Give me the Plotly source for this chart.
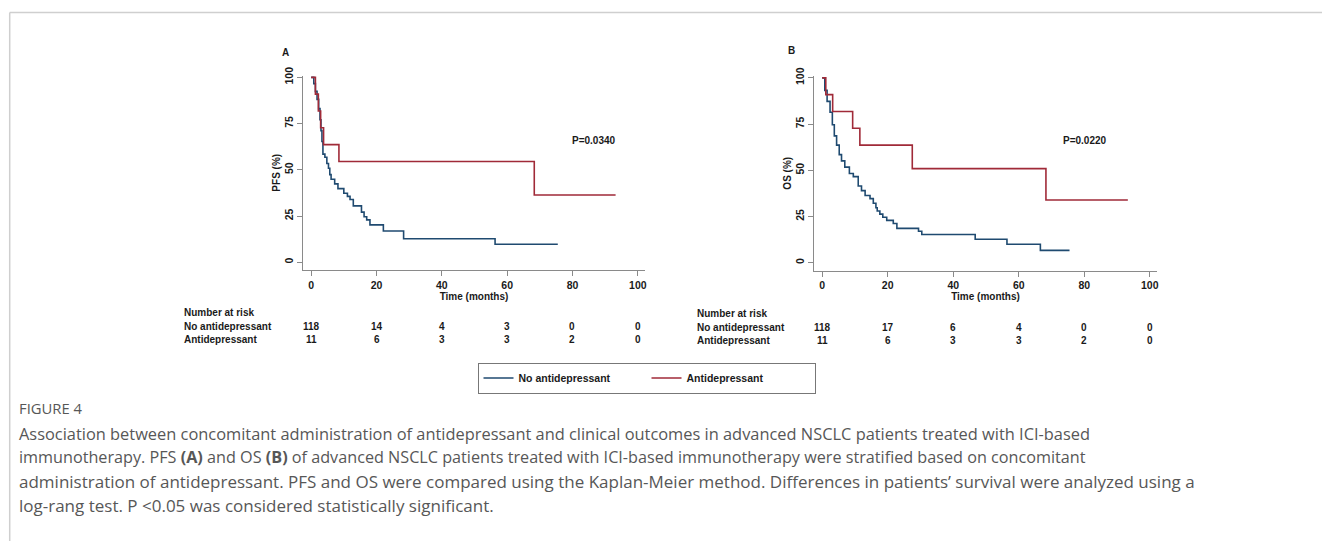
import plotly.graph_objects as go

W, H = 1322, 541

# ---- Kaplan-Meier step data (time in months, survival in %) ----
# Panel A: progression-free survival
pfs_no_t = [0, 0.8, 1.3, 1.8, 2.3, 2.7, 3.0, 3.3, 3.6, 4.2, 4.8, 5.3, 5.7, 6.1, 7.2, 8.2,
            10.0, 11.1, 11.9, 12.9, 15.4, 16.2, 17.0, 18.0, 22.1, 28.3, 56.3, 75.5]
pfs_no_s = [100, 96.6, 92.4, 88.1, 83.1, 77.1, 71.2, 65.3, 58.5, 56.8, 53.4, 50.8, 47.4, 44.9,
            42.4, 39.8, 37.3, 35.6, 33.9, 30.5, 27.1, 24.6, 22.9, 20.2, 16.9, 12.7, 9.7, 9.7]
pfs_ad_t = [0, 1.3, 2.2, 2.9, 3.8, 8.5, 68.3, 93.2]
pfs_ad_s = [100, 90.9, 81.8, 72.7, 63.6, 54.5, 36.4, 36.4]

# Panel B: overall survival
os_no_t = [0, 0.8, 1.5, 2.4, 3.1, 3.7, 4.4, 5.2, 5.9, 6.9, 8.3, 9.5, 11.0, 12.0, 13.1, 14.6,
           15.6, 16.4, 16.8, 17.6, 18.5, 19.7, 21.7, 22.8, 29.4, 30.4, 46.7, 56.4, 66.6, 75.5]
os_no_s = [100, 93.2, 87.3, 81.4, 74.6, 68.6, 63.6, 58.5, 55.1, 51.7, 48.3, 46.6, 41.5, 39.0,
           36.4, 34.7, 32.2, 29.7, 28.0, 26.3, 24.6, 22.9, 21.2, 18.6, 17.0, 15.3, 12.7, 10.0, 6.7, 6.7]
os_ad_t = [0, 1.1, 3.2, 9.3, 11.5, 27.5, 68.3, 93.3]
os_ad_s = [100, 90.9, 81.8, 72.7, 63.6, 50.9, 33.9, 33.9]

# Number-at-risk tables
risk_times = [0, 20, 40, 60, 80, 100]
pfs_risk_no = [118, 14, 4, 3, 0, 0]
pfs_risk_ad = [11, 6, 3, 3, 2, 0]
os_risk_no = [118, 17, 6, 4, 0, 0]
os_risk_ad = [11, 6, 3, 3, 2, 0]

group_names = ["No antidepressant", "Antidepressant"]
p_values = ["P=0.0340", "P=0.0220"]
x_ticks = [0, 20, 40, 60, 80, 100]
y_ticks = [0, 25, 50, 75, 100]

caption_head = "FIGURE 4"
caption_lines = [
    "Association between concomitant administration of antidepressant and clinical outcomes in advanced NSCLC patients treated with ICI-based",
    "immunotherapy. PFS <b>(A)</b> and OS <b>(B)</b> of advanced NSCLC patients treated with ICI-based immunotherapy were stratified based on concomitant",
    "administration of antidepressant. PFS and OS were compared using the Kaplan-Meier method. Differences in patients\u2019 survival were analyzed using a",
    "log-rang test. P <0.05 was considered statistically significant.",
]
caption_sizes = [16.4, 16.2, 17.0, 17.0]

NAVY = "#1f4a70"
MAROON = "#a02a38"
AX = "#8a8a8a"
FONT = "Liberation Sans"


def px_x(p):
    return p / W


def px_y(p):
    return 1 - p / H


fig = go.Figure()

panels = [
    ("x", "y", pfs_no_t, pfs_no_s, pfs_ad_t, pfs_ad_s, True),
    ("x2", "y2", os_no_t, os_no_s, os_ad_t, os_ad_s, False),
]
for xa, ya, nt, ns, at, as_, show in panels:
    fig.add_trace(go.Scatter(x=nt, y=ns, mode="lines", line=dict(color=NAVY, width=1.6, shape="hv"),
                             name=group_names[0], legendgroup="no", showlegend=show,
                             xaxis=xa, yaxis=ya, hoverinfo="skip"))
    fig.add_trace(go.Scatter(x=at, y=as_, mode="lines", line=dict(color=MAROON, width=1.6, shape="hv"),
                             name=group_names[1], legendgroup="ad", showlegend=show,
                             xaxis=xa, yaxis=ya, hoverinfo="skip"))

tickfont = dict(family=FONT, size=10.5, color="#1a1a1a", weight="bold")
titlefont = dict(family=FONT, size=10, color="#1a1a1a", weight="bold")

x_common = dict(range=[-2.5, 102.2], tickvals=x_ticks, showgrid=False, zeroline=False,
                showline=True, linecolor=AX, linewidth=1, ticks="outside", ticklen=5,
                tickcolor=AX, tickwidth=1, tickfont=tickfont, automargin=False,
                title=dict(text="Time (months)", font=titlefont, standoff=2))
y_common = dict(range=[-4.2, 101], tickvals=y_ticks, showgrid=False, zeroline=False,
                showline=True, linecolor=AX, linewidth=1, ticks="outside", ticklen=5,
                tickcolor=AX, tickwidth=1, tickfont=tickfont, tickangle=-90, automargin=False)

fig.update_layout(
    xaxis=dict(domain=[px_x(303), px_x(645)], anchor="y", **x_common),
    yaxis=dict(domain=[px_y(270), px_y(75.5)], anchor="x",
               title=dict(text="PFS (%)", font=titlefont, standoff=0), **y_common),
    xaxis2=dict(domain=[px_x(814), px_x(1157)], anchor="y2", **x_common),
    yaxis2=dict(domain=[px_y(270.5), px_y(76)], anchor="x2",
                title=dict(text="OS (%)", font=titlefont, standoff=0), **y_common),
)

ann = []
bold10 = dict(family=FONT, size=10, color="#1a1a1a", weight="bold")

# Panel letters and p-values
ann.append(dict(text="A", x=px_x(285), y=px_y(52), xref="paper", yref="paper",
                showarrow=False, font=bold10, xanchor="center", yanchor="middle"))
ann.append(dict(text="B", x=px_x(791), y=px_y(51), xref="paper", yref="paper",
                showarrow=False, font=bold10, xanchor="center", yanchor="middle"))
ann.append(dict(text=p_values[0], x=86.5, y=65.7, xref="x", yref="y", showarrow=False,
                font=bold10, xanchor="center", yanchor="middle"))
ann.append(dict(text=p_values[1], x=80.3, y=66, xref="x2", yref="y2", showarrow=False,
                font=bold10, xanchor="center", yanchor="middle"))

# Number-at-risk tables
tables = [
    ("x", 182.5, 312.5, pfs_risk_no, pfs_risk_ad),
    ("x2", 695, 313.5, os_risk_no, os_risk_ad),
]
for xa, left, top, rno, rad in tables:
    ann.append(dict(text="Number at risk", x=px_x(left), y=px_y(top), xref="paper", yref="paper",
                    showarrow=False, font=bold10, xanchor="left", yanchor="middle"))
    for k, (label, row) in enumerate(zip(group_names, [rno, rad])):
        yy = px_y(top + 13.7 * (k + 1))
        ann.append(dict(text=label, x=px_x(left), y=yy, xref="paper", yref="paper",
                        showarrow=False, font=bold10, xanchor="left", yanchor="middle"))
        for t, n in zip(risk_times, row):
            ann.append(dict(text=str(n), x=t, y=yy, xref=xa, yref="paper", showarrow=False,
                            font=bold10, xanchor="center", yanchor="middle"))

# Caption
ann.append(dict(text=caption_head, x=px_x(17), y=px_y(408), xref="paper", yref="paper",
                showarrow=False, xanchor="left", yanchor="middle",
                font=dict(family="Open Sans", size=14.8, color="#575757")))
for i, (line, size) in enumerate(zip(caption_lines, caption_sizes)):
    ann.append(dict(text=line, x=px_x(17), y=px_y(433 + 24 * i), xref="paper", yref="paper",
                    showarrow=False, xanchor="left", yanchor="middle",
                    font=dict(family="Open Sans", size=size, color="#575757")))

fig.update_layout(annotations=ann)

# Page frame lines
fig.update_layout(shapes=[
    dict(type="line", xref="paper", yref="paper", x0=px_x(9.7), x1=1, y0=px_y(12.5), y1=px_y(12.5),
         line=dict(color="#cfcfcf", width=1.5)),
    dict(type="line", xref="paper", yref="paper", x0=px_x(9.7), x1=px_x(9.7), y0=0, y1=px_y(12.5),
         line=dict(color="#cfcfcf", width=1.5)),
])

fig.update_layout(
    width=W, height=H, margin=dict(l=0, r=0, t=0, b=0, autoexpand=False),
    paper_bgcolor="white", plot_bgcolor="white",
    showlegend=True,
    legend=dict(orientation="h", x=px_x(477.5), y=px_y(362.5), xanchor="left", yanchor="top",
                bordercolor="#777777", borderwidth=1, bgcolor="white",
                font=dict(family=FONT, size=10.5, color="#1a1a1a", weight="bold"),
                entrywidth=123, itemwidth=30, traceorder="normal"),
)

fig.write_html("out.html")
